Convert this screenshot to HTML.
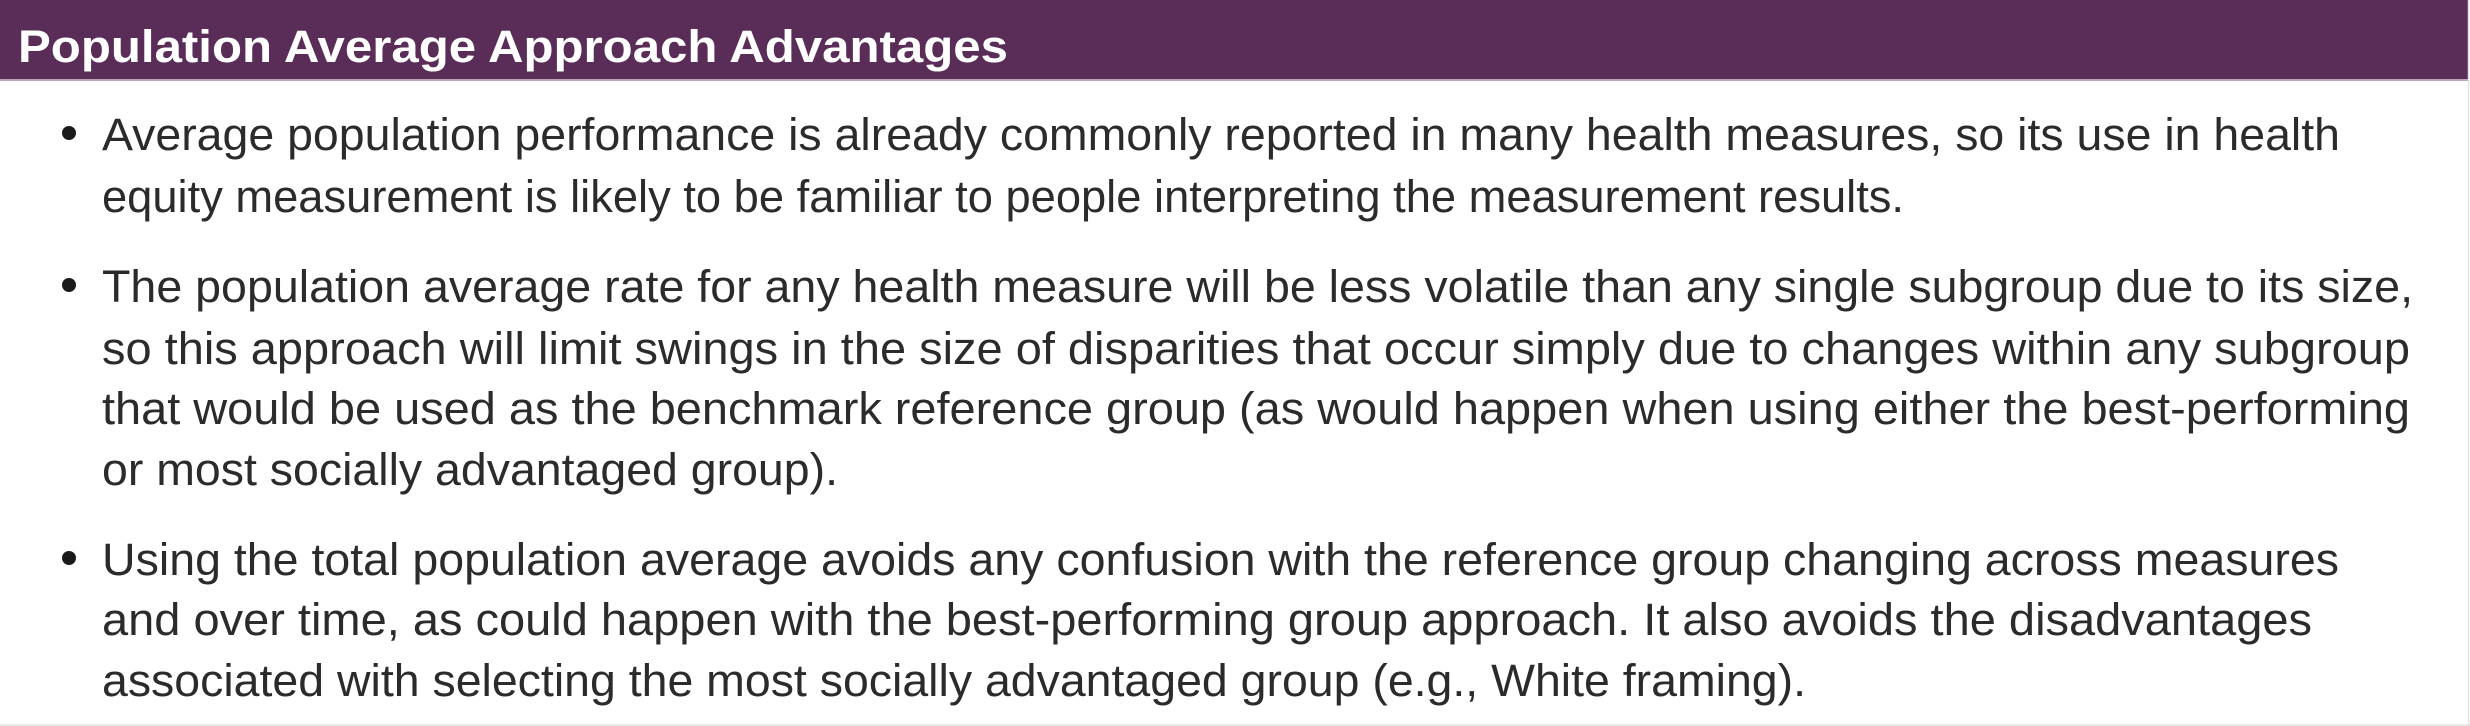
<!DOCTYPE html>
<html>
<head>
<meta charset="utf-8">
<style>
  html,body{margin:0;padding:0;background:#fff;}
  svg{display:block;}
  .body{font-family:"Liberation Sans",Arial,sans-serif;font-size:45px;fill:#2b2b2b;}
  .title{font-family:"Liberation Sans",Arial,sans-serif;font-size:45px;font-weight:bold;fill:#fff;}
</style>
</head>
<body>
<svg width="2470" height="726" viewBox="0 0 2470 726">
  <rect x="0" y="0" width="2470" height="726" fill="#fff"/>
  <rect x="0" y="0" width="2469" height="79" fill="#5a2d59"/>
  <rect x="0" y="79" width="2469" height="2" fill="#b9a6b8"/>
  <line x1="2468.5" y1="0" x2="2468.5" y2="726" stroke="#e2e2e2" stroke-width="1.5"/>
  <line x1="0" y1="725" x2="2470" y2="725" stroke="#e2e2e2" stroke-width="1.5"/>
  <text class="title" x="18" y="62" textLength="990" lengthAdjust="spacingAndGlyphs">Population Average Approach Advantages</text>

  <g>
    <circle cx="69" cy="133" r="7" fill="#1a1a1a"/>
    <text class="body" x="102" y="150" textLength="2238" lengthAdjust="spacingAndGlyphs">Average population performance is already commonly reported in many health measures, so its use in health</text>
    <text class="body" x="102" y="212" textLength="1802" lengthAdjust="spacingAndGlyphs">equity measurement is likely to be familiar to people interpreting the measurement results.</text>
  </g>

  <g>
    <circle cx="69" cy="285" r="7" fill="#1a1a1a"/>
    <text class="body" x="102" y="302" textLength="2311" lengthAdjust="spacingAndGlyphs">The population average rate for any health measure will be less volatile than any single subgroup due to its size,</text>
    <text class="body" x="102" y="364" textLength="2308" lengthAdjust="spacingAndGlyphs">so this approach will limit swings in the size of disparities that occur simply due to changes within any subgroup</text>
    <text class="body" x="102" y="424" textLength="2308" lengthAdjust="spacingAndGlyphs">that would be used as the benchmark reference group (as would happen when using either the best-performing</text>
    <text class="body" x="102" y="485" textLength="736" lengthAdjust="spacingAndGlyphs">or most socially advantaged group).</text>
  </g>

  <g>
    <circle cx="69" cy="558" r="7" fill="#1a1a1a"/>
    <text class="body" x="102" y="575" textLength="2237" lengthAdjust="spacingAndGlyphs">Using the total population average avoids any confusion with the reference group changing across measures</text>
    <text class="body" x="102" y="635" textLength="2210" lengthAdjust="spacingAndGlyphs">and over time, as could happen with the best-performing group approach. It also avoids the disadvantages</text>
    <text class="body" x="102" y="696" textLength="1704" lengthAdjust="spacingAndGlyphs">associated with selecting the most socially advantaged group (e.g., White framing).</text>
  </g>
</svg>
</body>
</html>
